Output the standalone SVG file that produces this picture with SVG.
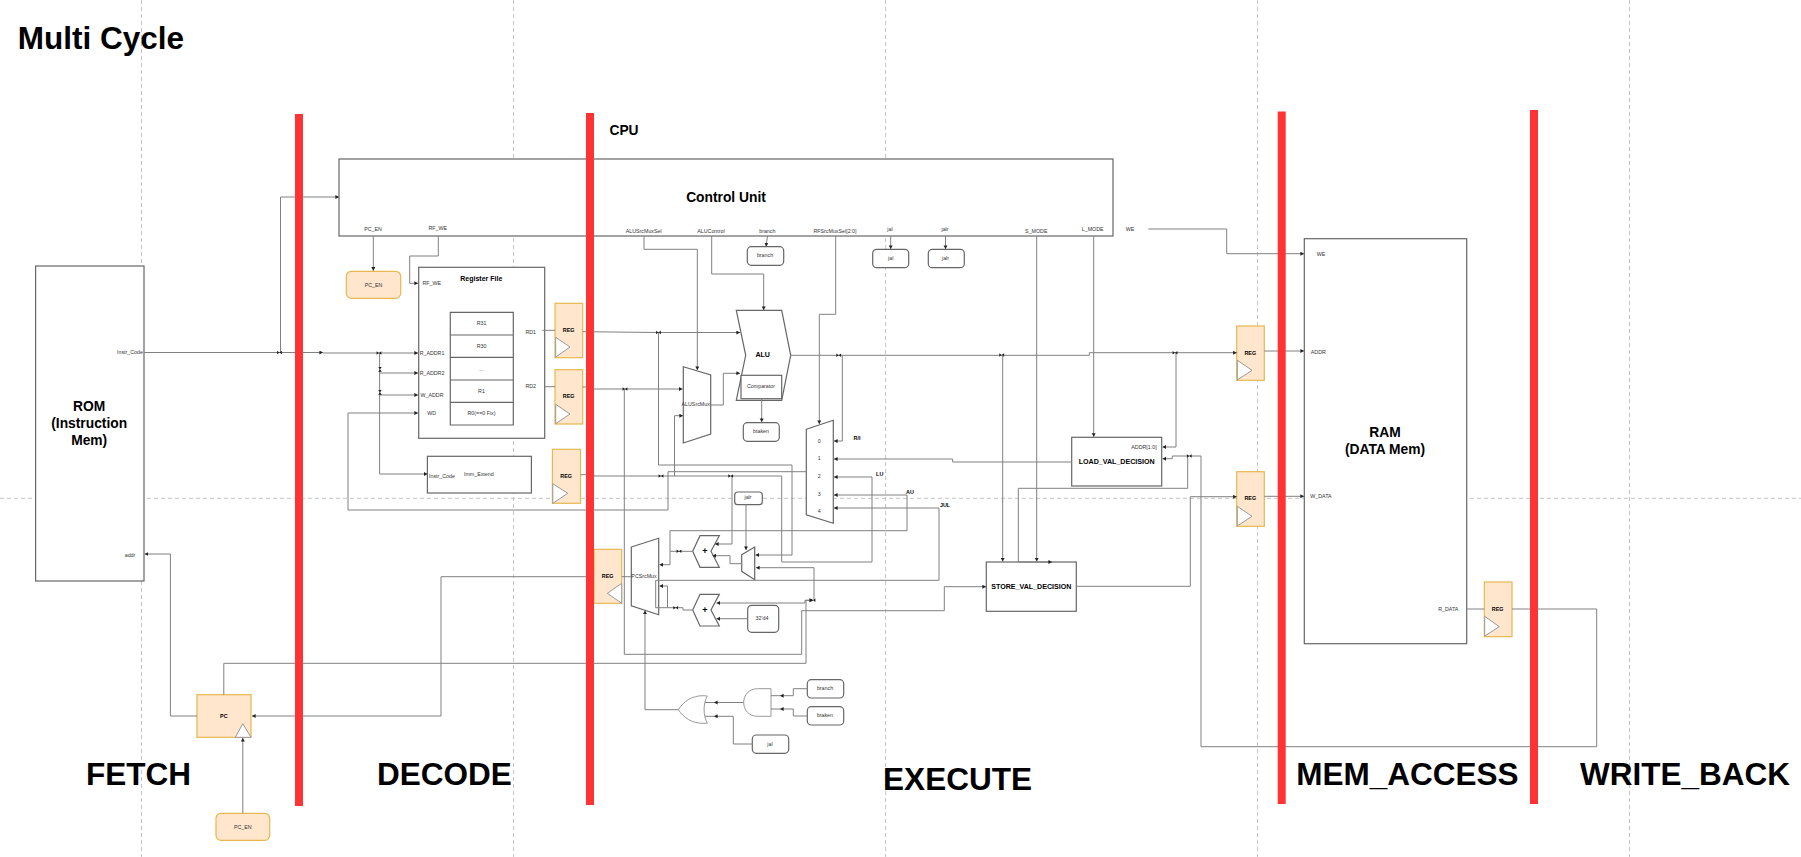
<svg xmlns="http://www.w3.org/2000/svg" width="1801" height="857" viewBox="0 0 1801 857">
<style>
text{font-family:"Liberation Sans",Arial,sans-serif;text-anchor:middle;dominant-baseline:central;fill:#333;font-size:5.3px}
.b{fill:#fff;stroke:#666;stroke-width:1.2}
.o{fill:#ffe6cc;stroke:#e6b84f;stroke-width:1.2}
.t{fill:#fff;stroke:#999;stroke-width:1}
.c{fill:none;stroke:#808080;stroke-width:1}
.g{fill:none;stroke:#c4c4c4;stroke-width:1;stroke-dasharray:4 3}
.s{font-weight:bold;fill:#000}
.r{font-weight:bold;fill:#000;font-size:5.4px}
.m{font-weight:bold;fill:#000;font-size:7.1px}
.h{font-weight:bold;fill:#000;font-size:31.5px}
.n{font-weight:bold;fill:#000;font-size:13.8px}
.bar{fill:#ff3333}
</style>
<defs>
<marker id="a" markerUnits="userSpaceOnUse" markerWidth="5" markerHeight="5" refX="3.6" refY="2" orient="auto"><path d="M0 0L3.6 2L0 4Z" fill="#222"/></marker>
<path id="j" d="M-2.4 -1.8L0 0L-2.4 1.8ZM2.4 -1.8L0 0L2.4 1.8Z" fill="#222"/>
<path id="jv" d="M-1.8 -2.4L0 0L1.8 -2.4ZM-1.8 2.4L0 0L1.8 2.4Z" fill="#222"/>
</defs>
<rect width="1801" height="857" fill="#fff"/>
<g id="guides">
<path class="g" d="M141.500 0V857M513.600 0V857M885.600 0V857M1257.500 0V857M1629.500 0V857M0 498.300H1801"/>
</g>
<g id="title"><text class="h" x="101" y="37.500">Multi Cycle</text></g>
<g id="stages">
<text class="h" x="138.500" y="774">FETCH</text>
<text class="h" x="444.500" y="774">DECODE</text>
<text class="h" x="957.500" y="779">EXECUTE</text>
<text class="h" x="1407.500" y="774">MEM_ACCESS</text>
<text class="h" x="1685" y="774">WRITE_BACK</text>
</g>
<g id="cpu-label"><text class="n" x="624" y="130">CPU</text></g>
<g id="control-unit">
<rect class="b" x="339" y="159" width="774" height="77"/>
<text class="n" x="726" y="197.500">Control Unit</text>
<text x="373" y="229">PC_EN</text><text x="437.700" y="228">RF_WE</text>
<text x="643.700" y="231">ALUSrcMuxSel</text><text x="711" y="231">ALUControl</text>
<text x="767.300" y="231">branch</text><text x="835" y="231">RFSrcMuxSel[2:0]</text>
<text x="890" y="229.300">jal</text><text x="945" y="229.300">jalr</text>
<text x="1036.300" y="231">S_MODE</text><text x="1092.700" y="229">L_MODE</text>
</g>
<g id="we-label"><text x="1130" y="229">WE</text></g>
<g id="rom">
<rect class="b" x="35.600" y="266" width="108.400" height="315"/>
<text class="n" x="89.200" y="406.700">ROM</text><text class="n" x="89.200" y="423.300">(Instruction</text><text class="n" x="89.200" y="440">Mem)</text>
<text x="130" y="352">Instr_Code</text><text x="130" y="555">addr</text>
</g>
<g id="ram">
<rect class="b" x="1304.300" y="238.700" width="162.400" height="405"/>
<text class="n" x="1385" y="432">RAM</text><text class="n" x="1385" y="449">(DATA Mem)</text>
<text x="1321" y="254">WE</text><text x="1318.300" y="352">ADDR</text><text x="1321" y="496">W_DATA</text><text x="1448.300" y="609">R_DATA</text>
</g>
<g id="pc-en-top"><rect class="o" x="346.300" y="271.300" width="54.400" height="27" rx="5"/><text x="373.500" y="285">PC_EN</text></g>
<g id="register-file">
<rect class="b" x="418.700" y="267.300" width="126" height="171"/>
<text class="m" x="481.300" y="278.300" style="font-size:7px">Register File</text>
<path class="b" d="M450.300 312.300H513.300V425H450.300ZM450.300 335H513.300M450.300 357.300H513.300M450.300 380H513.300M450.300 402.300H513.300"/>
<text x="481.500" y="323">R31</text><text x="481.500" y="346">R30</text><text x="481.500" y="369">...</text><text x="481.500" y="391">R1</text><text x="481.500" y="413">R0(==0 Fix)</text>
<text x="431.700" y="283.300">RF_WE</text><text x="432" y="353">R_ADDR1</text><text x="432" y="373">R_ADDR2</text><text x="432" y="395">W_ADDR</text><text x="431.700" y="413">WD</text>
<text x="530.700" y="332">RD1</text><text x="530.700" y="386">RD2</text>
</g>
<g id="imm-extend"><rect class="b" x="427.400" y="456.300" width="104" height="36.700"/><text x="442" y="476">Instr_Code</text><text x="478.800" y="474">Imm_Extend</text></g>
<g id="reg-rd1"><rect class="o" x="555" y="303.300" width="27.700" height="54.400"/><text class="r" x="568.700" y="330">REG</text><path class="t" d="M555.700 337.300L570 347L555.700 357Z"/></g>
<g id="reg-rd2"><rect class="o" x="555" y="369.700" width="27.700" height="54.300"/><text class="r" x="568.700" y="396">REG</text><path class="t" d="M555.700 404.300L570 414L555.700 423.700Z"/></g>
<g id="reg-imm"><rect class="o" x="552.400" y="449.300" width="28.100" height="54"/><text class="r" x="566.200" y="476">REG</text><path class="t" d="M552.800 483.700L567.800 493.300L552.800 503.300Z"/></g>
<g id="reg-pc"><rect class="o" x="594" y="549.300" width="27.700" height="54"/><text class="r" x="607.700" y="576">REG</text><path class="t" d="M621.700 583.300L607.300 593.300L621.700 603.300Z"/></g>
<g id="pc"><rect class="o" x="197" y="694.700" width="54" height="42.600"/><text class="r" x="223.800" y="715.500">PC</text><path class="t" d="M235.300 737.300L242.800 723.700L251 737.300Z"/></g>
<g id="pc-en-bottom"><rect class="o" x="216" y="813.300" width="53.700" height="27" rx="5"/><text x="242.800" y="826.500">PC_EN</text></g>
<g id="branch-top"><rect class="b" x="747.300" y="246.700" width="36.400" height="18.600" rx="4"/><text x="765" y="255">branch</text></g>
<g id="jal-top"><rect class="b" x="872.700" y="249.300" width="36" height="18.400" rx="4"/><text x="890.700" y="258">jal</text></g>
<g id="jalr-top"><rect class="b" x="928.300" y="249.300" width="36" height="18.400" rx="4"/><text x="945.500" y="258">jalr</text></g>
<g id="alu-src-mux"><path class="b" d="M683.300 366.700L710.700 375V434L683.300 443Z"/><text x="695.700" y="404">ALUSrcMux</text></g>
<g id="alu"><path class="b" d="M736.300 310.300H781.700L790.700 355.300L781.700 400.300H736.300L745.700 355.300Z"/><text class="m" x="762.700" y="355">ALU</text>
<rect class="b" x="741" y="375.300" width="40.700" height="23.400"/><text x="761" y="386">Comparator</text></g>
<g id="btaken-top"><rect class="b" x="743.300" y="422.700" width="36" height="18.600" rx="4"/><text x="761" y="431">btaken</text></g>
<g id="rf-src-mux"><path class="b" d="M806.300 429.300L833.300 420.300V523.300L806.300 514.700Z"/>
<text x="819.300" y="441">0</text><text x="819.300" y="458">1</text><text x="819.300" y="476">2</text><text x="819.300" y="494">3</text><text x="819.300" y="511">4</text></g>
<g id="mux-labels"><text class="r" x="857" y="438">R/I</text><text class="r" x="879.700" y="474">LU</text><text class="r" x="910" y="492">AU</text><text class="r" x="945" y="505">JUL</text></g>
<g id="load-val"><rect class="b" x="1071.700" y="437.300" width="90" height="48.700"/><text class="m" x="1116.700" y="461.700">LOAD_VAL_DECISION</text><text x="1144" y="447.300">ADDR[1:0]</text></g>
<g id="store-val"><rect class="b" x="986.300" y="562" width="90" height="49.300"/><text class="m" x="1031.300" y="586.700">STORE_VAL_DECISION</text></g>
<g id="reg-alu"><rect class="o" x="1236.700" y="326" width="27.600" height="54.300"/><text class="r" x="1250.300" y="353">REG</text><path class="t" d="M1237.300 360.300L1252 370.300L1237.300 380Z"/></g>
<g id="reg-store"><rect class="o" x="1236.700" y="471.700" width="27.600" height="54.600"/><text class="r" x="1250.300" y="498">REG</text><path class="t" d="M1237.300 506.300L1252 516.300L1237.300 526Z"/></g>
<g id="reg-rdata"><rect class="o" x="1484.300" y="582" width="27.700" height="54.700"/><text class="r" x="1497.700" y="609">REG</text><path class="t" d="M1484.700 616.300L1499.300 626.700L1484.700 636Z"/></g>
<g id="pc-src-mux"><path class="b" d="M631.300 547L658.700 538.300V614.700L631.300 605.700Z"/><text x="644" y="576">PCSrcMux</text></g>
<g id="adder-1"><path class="b" d="M692.700 551.300L700 535.700H719.300L711 551.300L719.300 567.300H700Z"/><text class="m" x="705" y="551" style="font-size:9px">+</text></g>
<g id="adder-2"><path class="b" d="M692.700 610L700 594.300H719.300L711 610L719.300 626H700Z"/><text class="m" x="705" y="610" style="font-size:9px">+</text></g>
<g id="jalr-mux"><path class="b" d="M741.700 554.700L754.700 547V579.700L741.700 571.300Z"/></g>
<g id="jalr-box"><rect class="b" x="734.700" y="492" width="27.600" height="12.700" rx="3"/><text x="748" y="497">jalr</text></g>
<g id="const-4"><rect class="b" x="747.700" y="605.300" width="31" height="27" rx="4"/><text x="762" y="618">32'd4</text></g>
<g id="branch-bottom"><rect class="b" x="807.300" y="679.700" width="36.400" height="18.300" rx="4"/><text x="825" y="688">branch</text></g>
<g id="btaken-bottom"><rect class="b" x="807.300" y="706.700" width="36.400" height="18.300" rx="4"/><text x="825" y="715">btaken</text></g>
<g id="jal-bottom"><rect class="b" x="752.300" y="735" width="36.400" height="18.300" rx="4"/><text x="770" y="744">jal</text></g>
<g id="and-gate"><path class="t" d="M771 688.700V716.300H757.500C749 716.300 743.700 710 743.700 702.500C743.700 695 749 688.700 757.500 688.700Z"/></g>
<g id="or-gate"><path class="t" d="M678.300 709.700C684 701 692 695.700 703 695.700L707.300 696C703 704 703 715 707.300 723.300H703C692 723.300 684 718 678.300 709.700Z"/></g>
<g id="connectors">
<g class="c" marker-end="url(#a)">
<path d="M144 352.500H280.500V197H339"/>
<path d="M144 352.500H323"/>
<path d="M323 353H418"/>
<path d="M379.600 353V373H418"/>
<path d="M379.600 373V395H418"/>
<path d="M379.600 395V474H427.500"/>
<path d="M668 471.700V510H348V413H418"/>
<path d="M373.300 236V270.700"/>
<path d="M438.300 236V256H409.700V283.300H418"/>
<path d="M582.700 331.700L658 332.500H740"/>
<path d="M582.700 387H586L594 389H682.500"/>
<path d="M644 236V249.300H697.300V370"/>
<path d="M711.700 236V274H763.700V310"/>
<path d="M710.700 405H723.300V373.300H740"/>
<path d="M767.500 236L766 246.500"/>
<path d="M761.700 398.700V422"/>
<path d="M835.700 236V314.300H819.300V424"/>
<path d="M890.700 236V249"/>
<path d="M945.500 236V249"/>
<path d="M790.700 355.300H1089.300V352.700H1236.700"/>
<path d="M842.300 355.300V441H834"/>
<path d="M1176 352.700V447H1162.500"/>
<path d="M1002.700 355.300V561.500"/>
<path d="M1036.700 236V561.500"/>
<path d="M1093.700 236V436.800"/>
<path d="M1264.300 351H1304"/>
<path d="M1148.300 229H1226.700V253.700H1304"/>
<path d="M1071.700 462H952.700V459H834"/>
<path d="M1187.700 456V488.300H1018.300V562H1052"/>
<path d="M1076.300 586.300H1190.300V496.700H1236.700"/>
<path d="M1264.300 496.300H1304"/>
<path d="M1512 609H1596.700V746.700H1201V456H1172.300V458.700H1162.500"/>
<path d="M580.500 474.700H594V476H781.700V562H872V477H834"/>
<path d="M674.500 476V415.700H683"/>
<path d="M658.500 332.500V465H792V555H755.500"/>
<path d="M732 476V544H715"/>
<path d="M741.700 563.700H730V555.700H712.500"/>
<path d="M746 504.700V550"/>
<path d="M747.700 618.700H716.500"/>
<path d="M814 600.300V567.700H756"/>
<path d="M813 600.300H805V603H716.500"/>
<path d="M692.700 551.300H670V564.700H659.500"/>
<path d="M670 551.300V530.700H907V495H834"/>
<path d="M692.700 610H683V607.700H667.500V586H659.500"/>
<path d="M667.500 607.700H655.700V580.300H939V508H834"/>
<path d="M624.300 389V654.300H801.700V610.700H944.300V586.700H986"/>
<path d="M223.800 694.700V663.300H806V600.300H813"/>
<path d="M594 576.700H441V716H252"/>
<path d="M197 716H170.400V554H144.700"/>
<path d="M242.800 813.300V738"/>
<path d="M678.300 709.700H645V610.500"/>
<path d="M807.300 688.700H793.300V695.700H780"/>
<path d="M807.300 716H793.300V709H780"/>
<path d="M743.700 702.500H714"/>
<path d="M752.300 744H733.300V716.300H714"/>
</g>
<path class="c" d="M542.300 330.300H555M544.700 386.700H555M631.300 576.700H621.700M780 695.700H771M780 709H771M714 702.500H705M714 716.300H705M806.300 471.700H668M1466.700 609H1484.300"/>
<use href="#j" x="279.500" y="352.500"/><use href="#j" x="379" y="353"/><use href="#jv" x="380" y="369.300"/><use href="#jv" x="380" y="392.300"/>
<use href="#j" x="658.500" y="332.500"/><use href="#j" x="625" y="389"/><use href="#j" x="661" y="476"/><use href="#j" x="730.700" y="476"/>
<use href="#j" x="679" y="551.300"/><use href="#j" x="675.700" y="607.700"/><use href="#j" x="813" y="600.300"/>
<use href="#j" x="838.700" y="355.300"/><use href="#j" x="1001.700" y="355"/><use href="#j" x="1175" y="352.700"/><use href="#j" x="1189.300" y="456"/>
</g>
<g id="stage-bars">
<rect class="bar" x="295" y="114" width="8" height="692"/>
<rect class="bar" x="586" y="113" width="8" height="692"/>
<rect class="bar" x="1277.700" y="111.500" width="8" height="692.500"/>
<rect class="bar" x="1530" y="110" width="8" height="694"/>
</g>
</svg>
